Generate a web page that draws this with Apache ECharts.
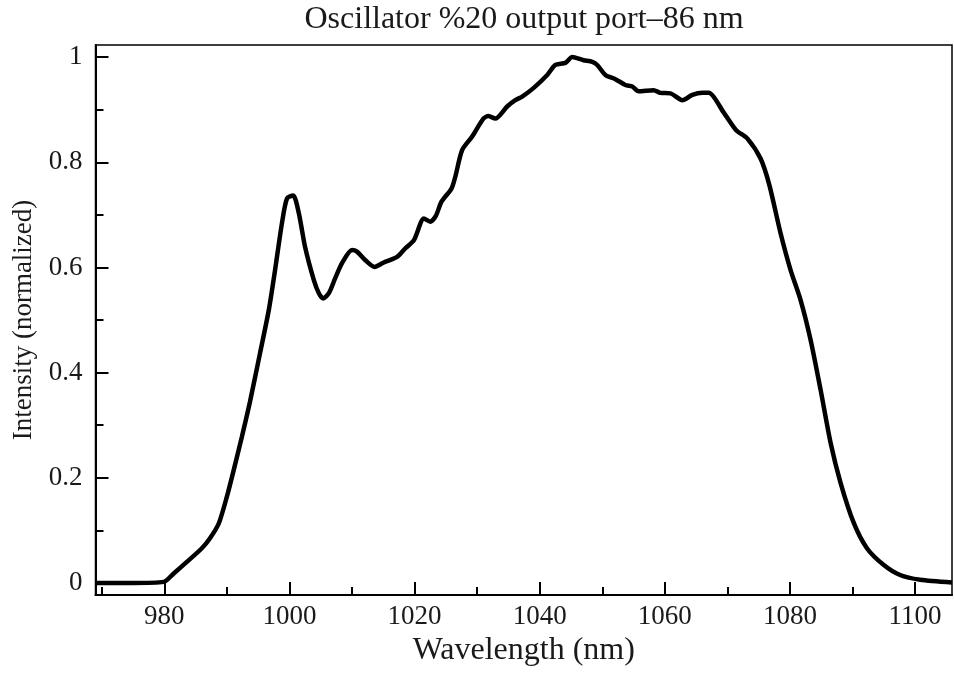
<!DOCTYPE html>
<html>
<head>
<meta charset="utf-8">
<script src="https://cdn.jsdelivr.net/npm/echarts@6/dist/echarts.min.js"></script>
<style>html,body{margin:0;padding:0;background:#fff}#c{width:954px;height:675px}</style>
</head>
<body>
<div id="c"></div>
<script>
var titleText = 'Oscillator %20 output port\u201386 nm';
var xName = 'Wavelength (nm)';
var yName = 'Intensity (normalized)';
var xMajorTicks = [980, 1000, 1020, 1040, 1060, 1080, 1100];
var xMinorTicks = [970, 990, 1010, 1030, 1050, 1070, 1090];
var yMajorTicks = [0, 0.2, 0.4, 0.6, 0.8, 1];
var yMinorTicks = [0.1, 0.3, 0.5, 0.7, 0.9];
var wavelength = [969.0, 975, 979.9, 981.5, 983.6, 986.0, 987.3, 988.7, 990.0, 991.1, 992.4, 993.7, 995.3, 996.7, 997.7, 998.8, 999.6, 1000.6, 1001.5, 1002.5, 1003.9, 1004.7, 1005.4, 1006.3, 1007.3, 1008.4, 1010.0, 1010.8, 1012.1, 1013.6, 1015.0, 1017.2, 1018.5, 1019.9, 1021.5, 1022.5, 1023.4, 1024.3, 1025.9, 1026.5, 1027.6, 1029.2, 1031.0, 1031.8, 1032.9, 1034.8, 1036.1, 1037.2, 1039.0, 1041.2, 1042.5, 1044.1, 1045.2, 1047.0, 1048.4, 1049.2, 1050.5, 1052.1, 1053.7, 1054.8, 1055.8, 1058.2, 1059.3, 1060.9, 1062.8, 1064.4, 1066.0, 1067.0, 1069.5, 1071.4, 1073.2, 1075.3, 1076.7, 1078.5, 1080.1, 1081.7, 1083.3, 1084.9, 1086.5, 1088.1, 1090.2, 1092.3, 1095.0, 1097.6, 1100.8, 1105.9];
var intensity = [0.0, 0.0, 0.002, 0.018, 0.040, 0.066, 0.085, 0.113, 0.164, 0.215, 0.278, 0.345, 0.437, 0.519, 0.595, 0.684, 0.731, 0.737, 0.703, 0.639, 0.576, 0.551, 0.541, 0.551, 0.579, 0.608, 0.633, 0.630, 0.614, 0.601, 0.609, 0.620, 0.636, 0.652, 0.693, 0.687, 0.698, 0.725, 0.750, 0.772, 0.823, 0.849, 0.883, 0.888, 0.883, 0.906, 0.918, 0.925, 0.941, 0.966, 0.985, 0.989, 1.0, 0.994, 0.991, 0.985, 0.966, 0.958, 0.947, 0.944, 0.935, 0.937, 0.932, 0.931, 0.918, 0.928, 0.932, 0.932, 0.893, 0.861, 0.845, 0.807, 0.757, 0.665, 0.595, 0.538, 0.462, 0.367, 0.266, 0.190, 0.114, 0.066, 0.034, 0.015, 0.006, 0.001];

var FONT = '"Liberation Serif", "Times New Roman", serif';
var TXT = '#1a1a1a';
var XMIN = 969.0, XMAX = 1105.9, YMIN = -0.023, YMAX = 1.023;

var chart = echarts.init(document.getElementById('c'), null, {renderer: 'canvas'});
var points = wavelength.map(function (w, i) { return [w, intensity[i]]; });

chart.setOption({
  animation: false,
  backgroundColor: '#fff',
  title: {
    text: titleText,
    left: 524, top: 4, textAlign: 'center', padding: 0,
    textStyle: {fontFamily: FONT, fontSize: 32, fontWeight: 'normal', color: TXT}
  },
  grid: {
    left: 95.5, right: 2, top: 45, bottom: 80,
    show: true, borderColor: '#000', borderWidth: 1.5, backgroundColor: 'transparent',
    containLabel: false
  },
  xAxis: [{
    type: 'value', position: 'bottom', min: XMIN, max: XMAX,
    name: xName, nameLocation: 'middle', nameGap: 34,
    nameTextStyle: {fontFamily: FONT, fontSize: 32, color: TXT},
    axisLine: {show: true, onZero: false, lineStyle: {color: '#000', width: 2}},
    axisTick: {show: true, inside: true, length: 13, customValues: xMajorTicks, lineStyle: {color: '#000', width: 2}},
    axisLabel: {show: true, margin: 8, customValues: xMajorTicks, fontFamily: FONT, fontSize: 27, color: TXT,
      formatter: function (v) { return String(Math.round(v)); }},
    splitLine: {show: false}
  }, {
    type: 'value', position: 'bottom', min: XMIN, max: XMAX,
    axisLine: {show: false, onZero: false},
    axisTick: {show: true, inside: true, length: 8, customValues: xMinorTicks, lineStyle: {color: '#000', width: 2}},
    axisLabel: {show: false},
    splitLine: {show: false}
  }],
  yAxis: [{
    type: 'value', position: 'left', min: YMIN, max: YMAX,
    name: yName, nameLocation: 'middle', nameGap: 58, nameRotate: 90,
    nameTextStyle: {fontFamily: FONT, fontSize: 27, color: TXT},
    axisLine: {show: true, onZero: false, lineStyle: {color: '#000', width: 2}},
    axisTick: {show: true, inside: true, length: 13, customValues: yMajorTicks, lineStyle: {color: '#000', width: 2}},
    axisLabel: {show: true, margin: 13, customValues: yMajorTicks, fontFamily: FONT, fontSize: 27, color: TXT,
      formatter: function (v) { return String(Math.round(v * 10) / 10); }},
    splitLine: {show: false}
  }, {
    type: 'value', position: 'left', min: YMIN, max: YMAX,
    axisLine: {show: false, onZero: false},
    axisTick: {show: true, inside: true, length: 8, customValues: yMinorTicks, lineStyle: {color: '#000', width: 2}},
    axisLabel: {show: false},
    splitLine: {show: false}
  }],
  series: [{
    type: 'line',
    xAxisIndex: 0, yAxisIndex: 0,
    data: points,
    showSymbol: false,
    smooth: 0.25,
    lineStyle: {color: '#000', width: 4.5},
    clip: true
  }]
});
</script>
</body>
</html>
